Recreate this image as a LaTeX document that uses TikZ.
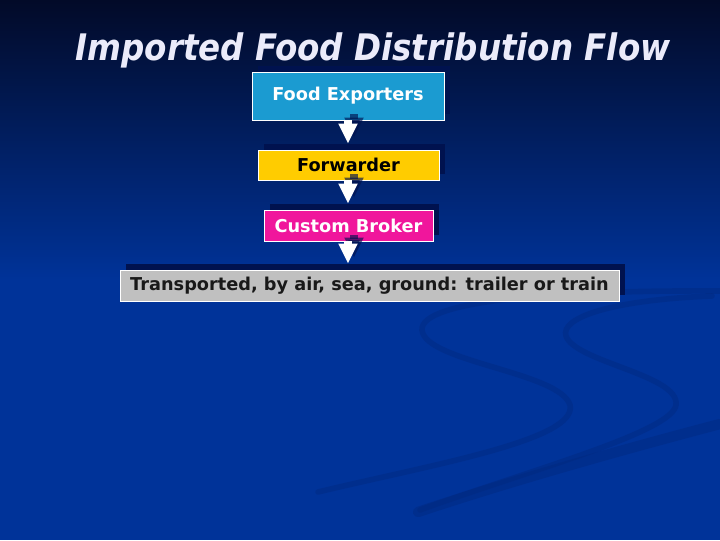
\documentclass[tikz,border=0pt]{standalone}
\usepackage{fontspec}
\setmainfont{DejaVu Sans}
\usetikzlibrary{arrows.meta,shadows}

\definecolor{navytop}{HTML}{020A28}
\definecolor{slideblue}{HTML}{003399}
\definecolor{swoosh}{HTML}{00297F}
\definecolor{boxshade}{HTML}{00124F}
\definecolor{exportblue}{HTML}{1B9BD1}
\definecolor{fwdgold}{HTML}{FFCC00}
\definecolor{brokerpink}{HTML}{F0169C}
\definecolor{transgray}{HTML}{C0C0C0}
\definecolor{titlewhite}{HTML}{EBEBFA}

\begin{document}
\begin{tikzpicture}[x=0.025cm, y=-0.025cm, very thick]
	\tikzstyle{box}    = [rectangle, draw=white, line width=0.6pt, inner sep=0pt, font=\bfseries\fontsize{12.6}{14}\selectfont, drop shadow={shadow xshift=0.15cm, shadow yshift=0.15cm, fill=boxshade, opacity=1}]
	\tikzstyle{boxA}   = [box, fill=exportblue, text=white, minimum width=4.8cm, minimum height=1.2cm]
	\tikzstyle{boxB}   = [box, fill=fwdgold, text=black, minimum width=4.525cm, minimum height=0.75cm]
	\tikzstyle{boxC}   = [box, fill=brokerpink, text=white, minimum width=4.225cm, minimum height=0.775cm]
	\tikzstyle{boxD}   = [box, fill=transgray, text=black!90, minimum width=12.475cm, minimum height=0.775cm]
	\tikzstyle{flow}   = [-{Triangle[width=0.45cm, length=0.5cm]}, line width=0.2cm, white]
	\tikzstyle{flowsh} = [flow, boxshade, opacity=0.65, transform canvas={xshift=0.15cm, yshift=0.15cm}]
	\tikzstyle{curl}   = [swoosh, opacity=0.45, line cap=round]

	\useasboundingbox (0,0) rectangle (720,540);

	% slide background
	\shade[top color=navytop, bottom color=slideblue] (0,0) rectangle (720,280);
	\fill[slideblue] (0,279) rectangle (720,540);
	\draw[curl, line width=0.14cm] (720,291) .. controls (560,290) and (420,300) .. (422,330) .. controls (425,362) and (560,372) .. (570,405) .. controls (578,440) and (430,465) .. (318,492);
	\draw[curl, line width=0.14cm] (712,296) .. controls (610,300) and (560,318) .. (566,336) .. controls (575,362) and (680,375) .. (676,405) .. controls (672,432) and (530,470) .. (420,510);
	\draw[curl, line width=0.26cm] (720,424) .. controls (640,445) and (520,478) .. (418,512);

	% title
	\node[anchor=base, text=titlewhite, font=\bfseries\itshape\fontsize{26}{30}\selectfont] (ttl) at (373,60) {\scalebox{0.89}[1]{Imported Food Distribution Flow}};

	\node[boxA] (fe) at (348,96)    {Food Exporters};
	\node[boxB] (fw) at (348.5,165) {Forwarder};
	\node[boxC] (cb) at (348.5,225.5) {Custom Broker};
	\node[boxD] (tr) at (369.5,285.5) {Transported, by air, sea, ground: trailer or train};

	\foreach \from/\to in {fe/fw, fw/cb, cb/tr}
	{
		\draw[flowsh] (\from.south -| fe.south) -- ([yshift=0.15cm]\to.north -| fe.south);
		\draw[flow] (\from.south -| fe.south) -- ([yshift=0.15cm]\to.north -| fe.south);
	}
\end{tikzpicture}
\end{document}
